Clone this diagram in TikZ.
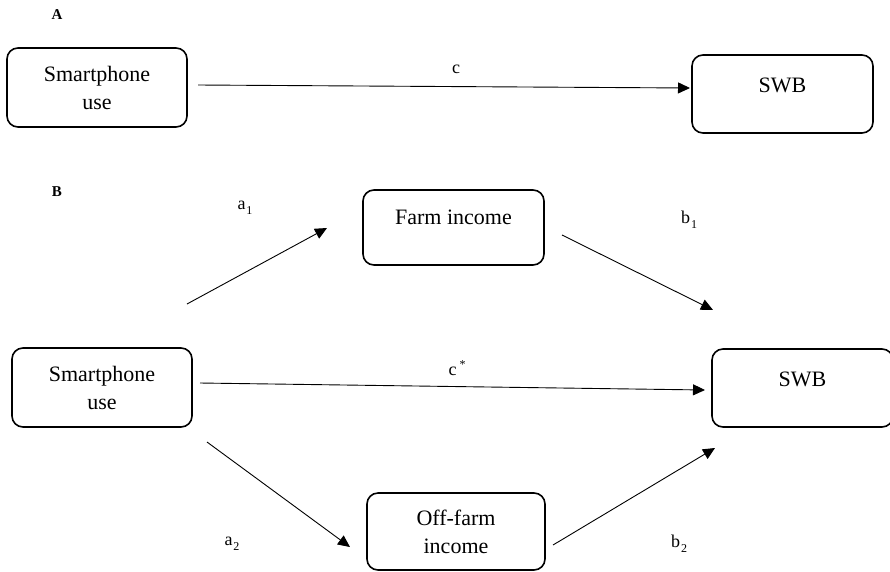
\documentclass[tikz,border=0pt]{standalone}
\usepackage{fontspec}
\setmainfont{Liberation Serif}
\usetikzlibrary{arrows.meta}
\newcommand\lowsub[1]{\kern1pt\raisebox{-5pt}{\fontsize{12}{12}\selectfont#1}}
\newcommand\highsup[1]{\kern3pt\raisebox{7pt}{\fontsize{12}{12}\selectfont#1}}
\begin{document}
\begin{tikzpicture}[x=1pt,y=-1pt,>={Triangle[length=12pt,width=11pt]},
    bx/.style={draw,line width=1.6pt,rounded corners=11pt,minimum width=181pt,minimum height=78pt,align=center,inner sep=0pt,font=\fontsize{22}{28}\selectfont},
    topbx/.style={bx,text height=37pt,text depth=41pt},
    lbl/.style={inner sep=0pt,font=\fontsize{18}{20}\selectfont},
    pnl/.style={inner sep=0pt,font=\bfseries\fontsize{15}{17}\selectfont},
    pth/.style={->,line width=0.9pt}]
\useasboundingbox (0,0) rectangle (890,571);
\node[pnl] (pa) at (57,15) {A};
\node[bx,minimum width=180pt,minimum height=79pt] (usea) at (97,87.5) {Smartphone\\use};
\node[topbx] (swba) at (782.5,94) {SWB};
\coordinate (ca) at (198,85);\coordinate (cb) at (690,88);
\draw[pth] (ca)--(cb);
\node[lbl] (lc) at (456,69) {c};
\node[pnl] (pb) at (57,192) {B};
\node[topbx,minimum height=75pt,text height=34pt] (farm) at (453.5,227.5) {Farm income};
\node[bx,minimum width=180pt,minimum height=79pt] (useb) at (102,387.5) {Smartphone\\use};
\node[topbx] (swbb) at (802.5,388) {SWB};
\node[bx,minimum width=178pt,minimum height=77pt] (off) at (456,531.5) {Off-farm\\income};
\coordinate (a1s) at (187,304);\coordinate (a1e) at (327,228);
\coordinate (b1s) at (562,235);\coordinate (b1e) at (713,310);
\coordinate (cs) at (200,383);\coordinate (ce) at (705,390);
\coordinate (a2s) at (207,442);\coordinate (a2e) at (350,547);
\coordinate (b2s) at (553,545);\coordinate (b2e) at (715,448);
\draw[pth] (a1s)--(a1e);\draw[pth] (b1s)--(b1e);\draw[pth] (cs)--(ce);
\draw[pth] (a2s)--(a2e);\draw[pth] (b2s)--(b2e);
\node[lbl] (la1) at (245,208) {a\lowsub{1}};
\node[lbl] (lb1) at (689,220) {b\lowsub{1}};
\node[lbl] (lcs) at (457,368) {c\highsup{*}};
\node[lbl] (la2) at (232,544) {a\lowsub{2}};
\node[lbl] (lb2) at (679,544) {b\lowsub{2}};
\end{tikzpicture}
\end{document}
